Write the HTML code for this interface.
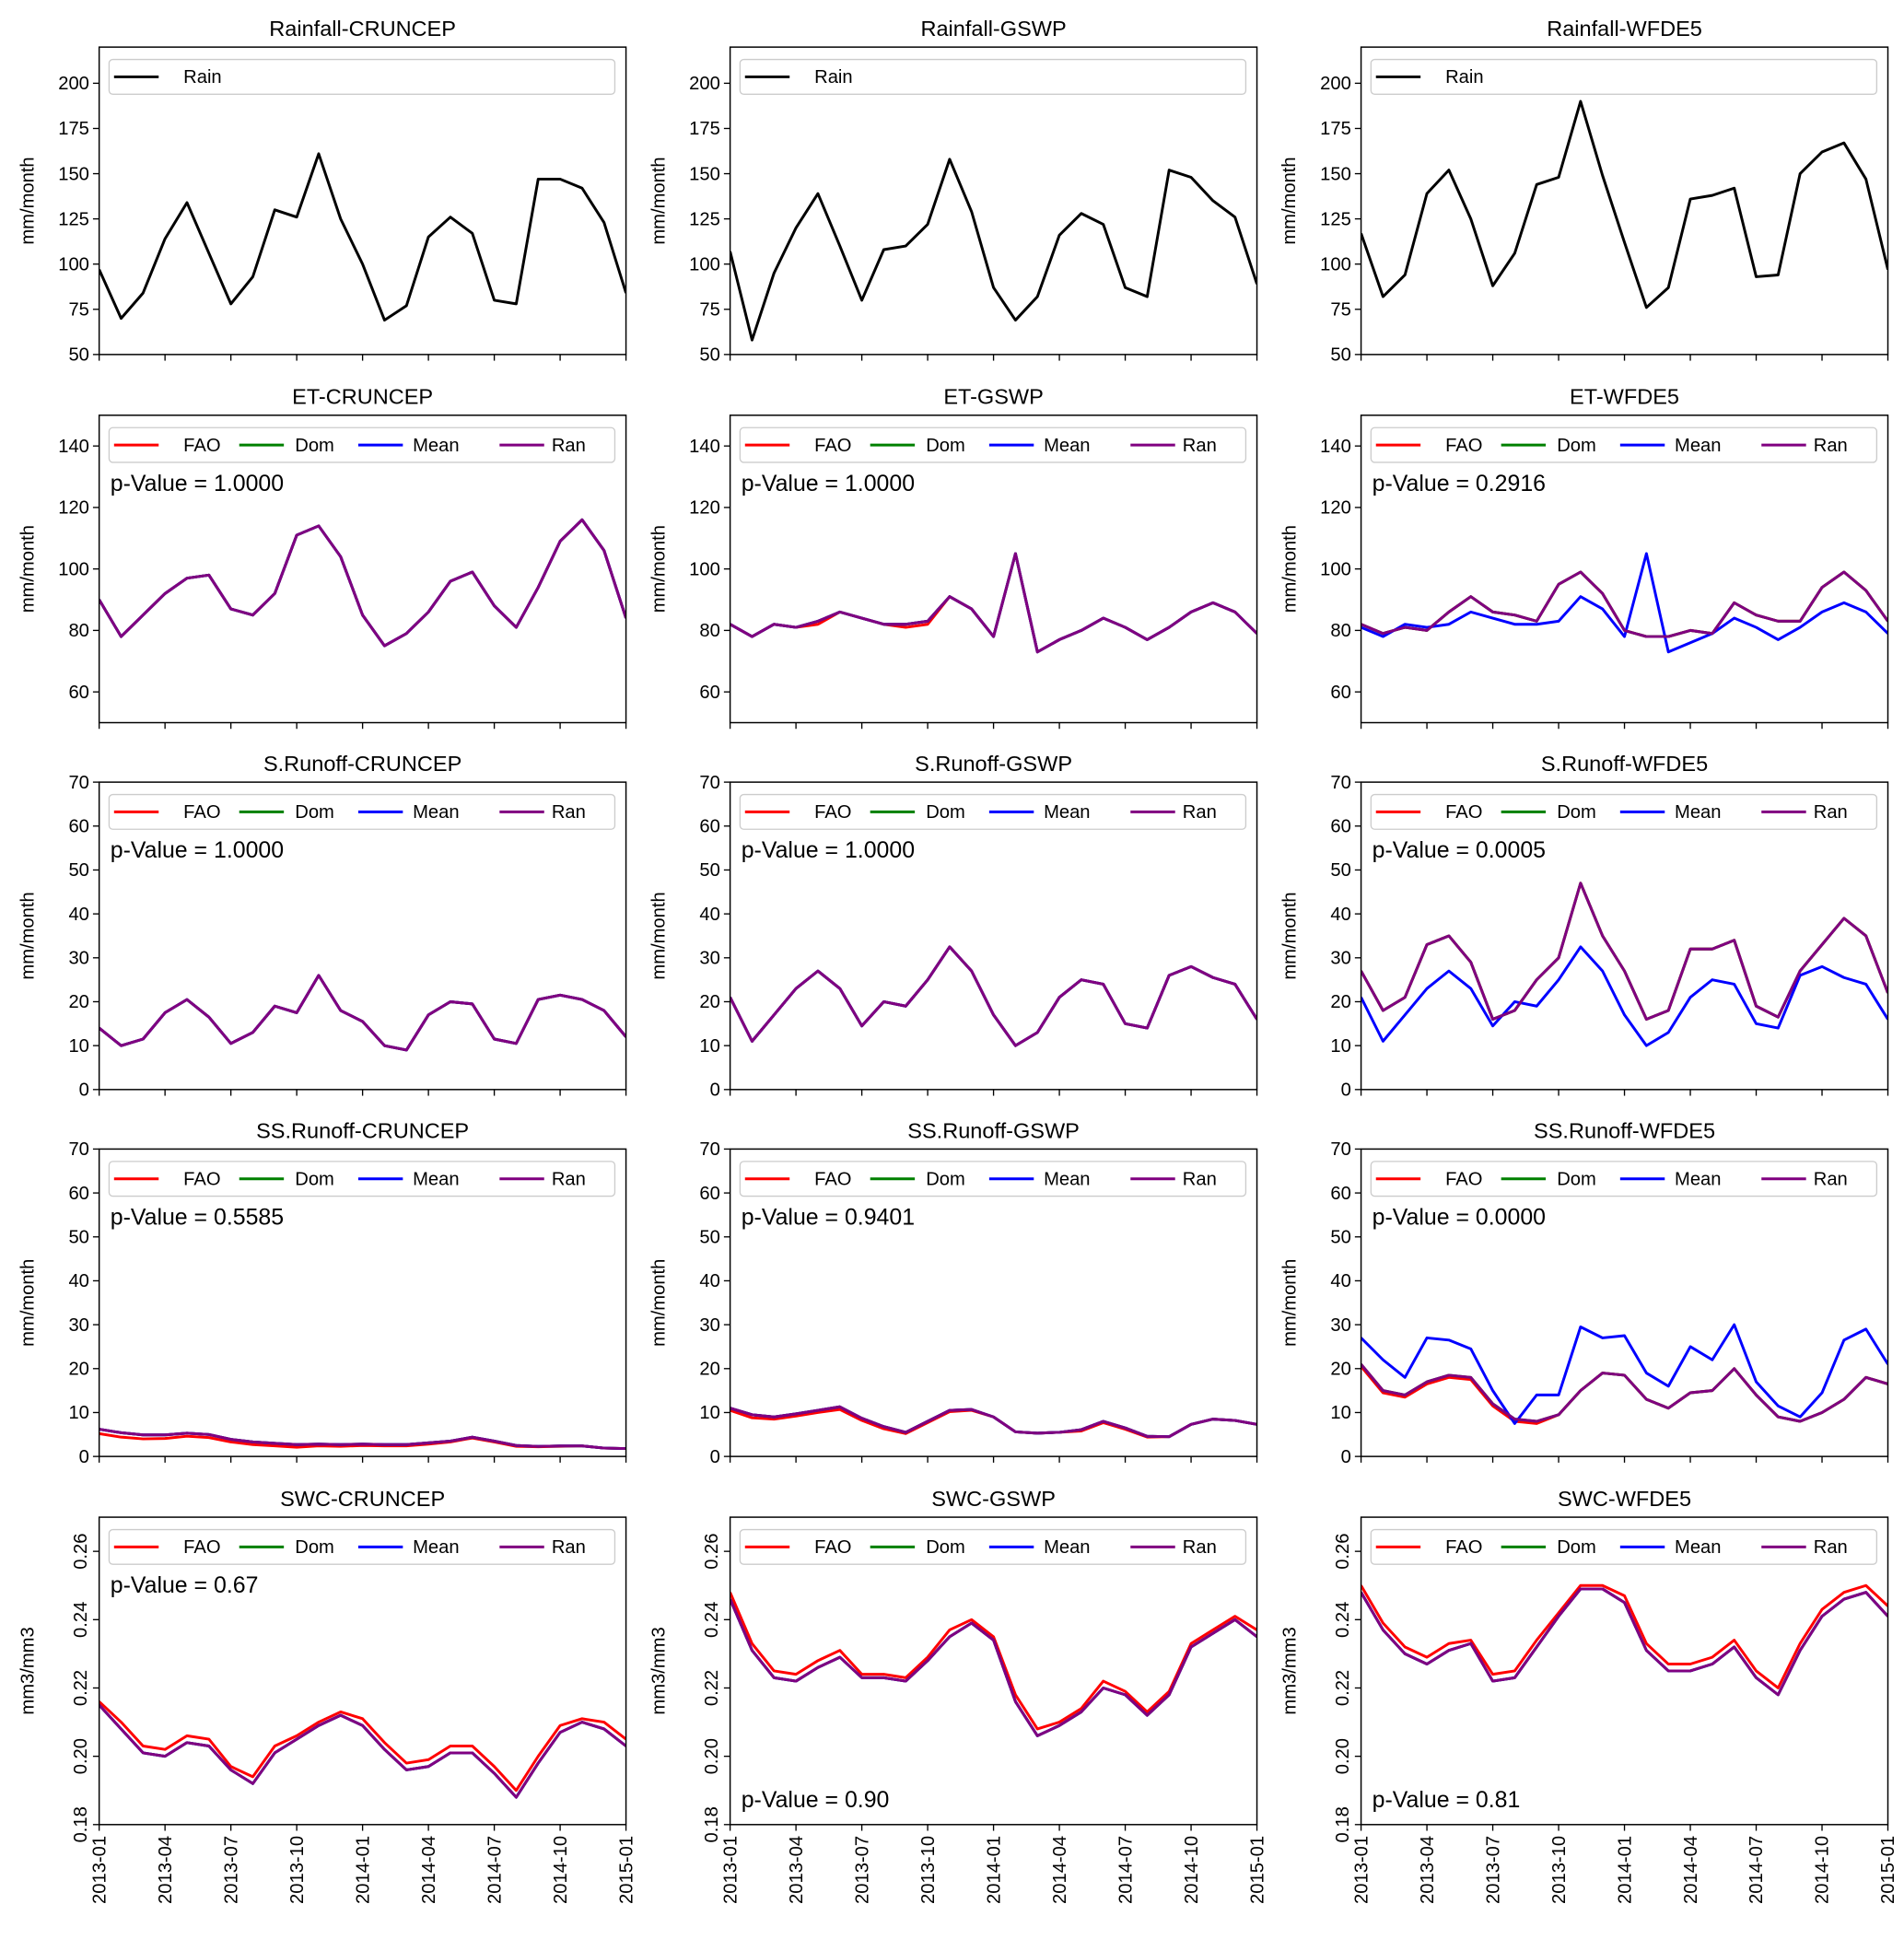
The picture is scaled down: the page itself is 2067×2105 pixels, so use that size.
<!DOCTYPE html>
<html><head><meta charset="utf-8">
<style>
body{margin:0;background:#fff;}
svg{display:block;}
svg text{font-family:"Liberation Sans","DejaVu Sans",sans-serif;fill:#000;}
</style></head>
<body>
<svg id="chart" width="2067" height="2105" viewBox="0 0 1536 1564.3" preserveAspectRatio="none" xmlns="http://www.w3.org/2000/svg"></svg>
<script>
const months = ["2013-01","2013-04","2013-07","2013-10","2014-01","2014-04","2014-07","2014-10","2015-01"];
const rainCRU = [97,70,84,114,134,106,78,93,130,126,161,125,100,69,77,115,126,117,80,78,147,147,142,123,84];
const rainGSWP = [107,58,95,120,139,110,80,108,110,122,158,129,87,69,82,116,128,122,87,82,152,148,135,126,89];
const rainWFD = [117,82,94,139,152,125,88,106,144,148,190,149,112,76,87,136,138,142,93,94,150,162,167,147,97];
const etCRU = [90,78,85,92,97,98,87,85,92,111,114,104,85,75,79,86,96,99,88,81,94,109,116,106,84];
const etGSWPfao = [82,78,82,81,82,86,84,82,81,82,91,87,78,105,73,77,80,84,81,77,81,86,89,86,79];
const etGSWP = [82,78,82,81,83,86,84,82,82,83,91,87,78,105,73,77,80,84,81,77,81,86,89,86,79];
const etWFDmean = [81,78,82,81,82,86,84,82,82,83,91,87,78,105,73,76,79,84,81,77,81,86,89,86,79];
const etWFDran = [82,79,81,80,86,91,86,85,83,95,99,92,80,78,78,80,79,89,85,83,83,94,99,93,83];
const srCRU = [14,10,11.5,17.5,20.5,16.5,10.5,13,19,17.5,26,18,15.5,10,9,17,20,19.5,11.5,10.5,20.5,21.5,20.5,18,12];
const srGSWP = [21,11,17,23,27,23,14.5,20,19,25,32.5,27,17,10,13,21,25,24,15,14,26,28,25.5,24,16];
const srWFDran = [27,18,21,33,35,29,16,18,25,30,47,35,27,16,18,32,32,34,19,16.5,27,33,39,35,22];
const srWFDmean = [21,11,17,23,27,23,14.5,20,19,25,32.5,27,17,10,13,21,25,24,15,14,26,28,25.5,24,16];
const ssCRUran = [6.2,5.4,4.9,4.9,5.3,5.0,3.9,3.3,3.0,2.7,2.8,2.7,2.8,2.7,2.7,3.1,3.5,4.4,3.5,2.5,2.3,2.4,2.4,1.9,1.8];
const ssCRUfao = [5.2,4.4,4.0,4.1,4.6,4.3,3.3,2.7,2.4,2.1,2.4,2.3,2.5,2.4,2.4,2.8,3.3,4.2,3.3,2.3,2.2,2.3,2.4,1.9,1.8];
const ssGSWPran = [11,9.5,9,9.7,10.5,11.3,8.7,6.8,5.5,8,10.5,10.7,9,5.6,5.3,5.5,6.1,8,6.5,4.6,4.5,7.3,8.5,8.2,7.3];
const ssGSWPfao = [10.5,8.8,8.5,9.2,10,10.7,8.2,6.3,5.2,7.7,10.2,10.5,9,5.6,5.3,5.5,5.8,7.7,6.2,4.4,4.5,7.3,8.5,8.2,7.3];
const ssWFDmean = [27,22,18,27,26.5,24.5,15,7.5,14,14,29.5,27,27.5,19,16,25,22,30,17,11.5,9,14.5,26.5,29,21];
const ssWFDran = [21,15,14,17,18.5,18,12,8.5,8,9.5,15,19,18.5,13,11,14.5,15,20,14,9,8,10,13,18,16.5];
const ssWFDfao = [20.5,14.5,13.5,16.5,18,17.5,11.5,8,7.5,9.5,15,19,18.5,13,11,14.5,15,20,14,9,8,10,13,18,16.5];
const swcCRUfao = [0.216,0.210,0.203,0.202,0.206,0.205,0.197,0.194,0.203,0.206,0.210,0.213,0.211,0.204,0.198,0.199,0.203,0.203,0.197,0.190,0.200,0.209,0.211,0.210,0.205];
const swcCRUran = [0.215,0.208,0.201,0.200,0.204,0.203,0.196,0.192,0.201,0.205,0.209,0.212,0.209,0.202,0.196,0.197,0.201,0.201,0.195,0.188,0.198,0.207,0.210,0.208,0.203];
const swcGSWPfao = [0.248,0.233,0.225,0.224,0.228,0.231,0.224,0.224,0.223,0.229,0.237,0.240,0.235,0.218,0.208,0.210,0.214,0.222,0.219,0.213,0.219,0.233,0.237,0.241,0.237];
const swcGSWPran = [0.246,0.231,0.223,0.222,0.226,0.229,0.223,0.223,0.222,0.228,0.235,0.239,0.234,0.216,0.206,0.209,0.213,0.220,0.218,0.212,0.218,0.232,0.236,0.240,0.235];
const swcWFDfao = [0.250,0.239,0.232,0.229,0.233,0.234,0.224,0.225,0.234,0.242,0.250,0.250,0.247,0.233,0.227,0.227,0.229,0.234,0.225,0.220,0.233,0.243,0.248,0.250,0.244];
const swcWFDran = [0.248,0.237,0.230,0.227,0.231,0.233,0.222,0.223,0.232,0.241,0.249,0.249,0.245,0.231,0.225,0.225,0.227,0.232,0.223,0.218,0.231,0.241,0.246,0.248,0.241];
const pvals = ["1.0000","1.0000","0.2916","1.0000","1.0000","0.0005","0.5585","0.9401","0.0000","0.67","0.90","0.81"];

const NS="http://www.w3.org/2000/svg";
const svg=document.getElementById('chart');
function mk(tag,attrs,parent){const e=document.createElementNS(NS,tag);for(const k in attrs)e.setAttribute(k,attrs[k]);(parent||svg).appendChild(e);return e;}
const colX=[80,589,1098], rowY=[38,335,631,927,1224], W=425, H=248;
const COLORS={FAO:"#ff0000",Dom:"#008000",Mean:"#0000ff",Ran:"#800080",Rain:"#000000"};

function panel(r,c,title,ymin,ymax,yticks,fmt,ylab,series,legend,pv,pvBottom){
  const x0=colX[c], y0=rowY[r];
  const g=mk('g',{});
  
  
  const xs=i=>x0+i*W/24, ys=v=>y0+H-(v-ymin)/(ymax-ymin)*H;
  const clip='clip'+r+c;
  const cp=mk('clipPath',{id:clip},g); mk('rect',{x:x0,y:y0,width:W,height:H},cp);
  series.forEach(s=>{
    const p=mk('polyline',{points:s.v.map((v,i)=>xs(i)+','+ys(v)).join(' '),fill:'none',stroke:COLORS[s.n],'stroke-width':2.2,'clip-path':'url(#'+clip+')','stroke-linejoin':'round'},g);
    
    
  });
  const fr=mk('rect',{x:x0,y:y0,width:W,height:H,fill:'none',stroke:'#000','stroke-width':1.1},g);
  
  
  const t=mk('text',{x:x0+W/2,y:y0-9,'text-anchor':'middle','font-size':17.5},g); t.textContent=title;
  
  
  yticks.forEach(v=>{
    const y=ys(v);
    mk('line',{x1:x0-5,x2:x0,y1:y,y2:y,stroke:'#000','stroke-width':1},g);
    let tt;
    if(fmt==='rot'){tt=mk('text',{x:x0-10,y:y,'font-size':15,'text-anchor':'middle',transform:'rotate(-90 '+(x0-10)+' '+y+')'},g);tt.textContent=v.toFixed(2);}
    else{tt=mk('text',{x:x0-8,y:y+5,'font-size':15,'text-anchor':'end'},g);tt.textContent=v;}
    
    
  });
  const yl=mk('text',{x:x0-53,y:y0+H/2,'font-size':15,'text-anchor':'middle',transform:'rotate(-90 '+(x0-53)+' '+(y0+H/2)+')'},g);
  yl.textContent=ylab;
  
  
  months.forEach((m,k)=>{
    const x=xs(k*3);
    mk('line',{x1:x,x2:x,y1:y0+H,y2:y0+H+5,stroke:'#000','stroke-width':1},g);
    if(r===4){
      const tx=mk('text',{x:x+5,y:y0+H+9,'font-size':15,'text-anchor':'end',transform:'rotate(-90 '+(x+5)+' '+(y0+H+9)+')'},g);
      tx.textContent=m;
      
      
    }
  });
  const lg=mk('g',{},g);
  
  
  mk('rect',{x:x0+8,y:y0+10,width:W-17,height:28,rx:3,fill:'#fff',stroke:'#ccc','stroke-width':1},lg);
  const pos=[[12,68],[113,158],[209,253],[323,365]];
  legend.forEach((n,k)=>{
    const ly=y0+24;
    mk('line',{x1:x0+pos[k][0],x2:x0+pos[k][0]+36,y1:ly,y2:ly,stroke:COLORS[n],'stroke-width':2.2},lg);
    const lt=mk('text',{x:x0+pos[k][1],y:ly+5,'font-size':15},lg); lt.textContent=n;
    
    
  });
  if(pv!==null){
    const py=pvBottom?y0+H-14:y0+61;
    const pt=mk('text',{x:x0+9,y:py,'font-size':18.5},g); pt.textContent='p-Value = '+pv;
    
    
  }
}
const L4=["FAO","Dom","Mean","Ran"];
const rT=[50,75,100,125,150,175,200], eT=[60,80,100,120,140], sT=[0,10,20,30,40,50,60,70], wT=[0.18,0.20,0.22,0.24,0.26];
const f4=(fao,dom,mean,ran)=>[{n:"FAO",v:fao},{n:"Dom",v:dom},{n:"Mean",v:mean},{n:"Ran",v:ran}];
panel(0,0,"Rainfall-CRUNCEP",50,220,rT,'',"mm/month",[{n:"Rain",v:rainCRU}],["Rain"],null);
panel(0,1,"Rainfall-GSWP",50,220,rT,'',"mm/month",[{n:"Rain",v:rainGSWP}],["Rain"],null);
panel(0,2,"Rainfall-WFDE5",50,220,rT,'',"mm/month",[{n:"Rain",v:rainWFD}],["Rain"],null);
panel(1,0,"ET-CRUNCEP",50,150,eT,'',"mm/month",f4(etCRU,etCRU,etCRU,etCRU),L4,pvals[0]);
panel(1,1,"ET-GSWP",50,150,eT,'',"mm/month",f4(etGSWPfao,etGSWP,etGSWP,etGSWP),L4,pvals[1]);
panel(1,2,"ET-WFDE5",50,150,eT,'',"mm/month",f4(etWFDran,etWFDran,etWFDmean,etWFDran),L4,pvals[2]);
panel(2,0,"S.Runoff-CRUNCEP",0,70,sT,'',"mm/month",f4(srCRU,srCRU,srCRU,srCRU),L4,pvals[3]);
panel(2,1,"S.Runoff-GSWP",0,70,sT,'',"mm/month",f4(srGSWP,srGSWP,srGSWP,srGSWP),L4,pvals[4]);
panel(2,2,"S.Runoff-WFDE5",0,70,sT,'',"mm/month",f4(srWFDran,srWFDran,srWFDmean,srWFDran),L4,pvals[5]);
panel(3,0,"SS.Runoff-CRUNCEP",0,70,sT,'',"mm/month",f4(ssCRUfao,ssCRUran,ssCRUran,ssCRUran),L4,pvals[6]);
panel(3,1,"SS.Runoff-GSWP",0,70,sT,'',"mm/month",f4(ssGSWPfao,ssGSWPran,ssGSWPran,ssGSWPran),L4,pvals[7]);
panel(3,2,"SS.Runoff-WFDE5",0,70,sT,'',"mm/month",f4(ssWFDfao,ssWFDran,ssWFDmean,ssWFDran),L4,pvals[8]);
panel(4,0,"SWC-CRUNCEP",0.18,0.27,wT,'rot',"mm3/mm3",f4(swcCRUfao,swcCRUran,swcCRUran,swcCRUran),L4,pvals[9],false);
panel(4,1,"SWC-GSWP",0.18,0.27,wT,'rot',"mm3/mm3",f4(swcGSWPfao,swcGSWPran,swcGSWPran,swcGSWPran),L4,pvals[10],true);
panel(4,2,"SWC-WFDE5",0.18,0.27,wT,'rot',"mm3/mm3",f4(swcWFDfao,swcWFDran,swcWFDran,swcWFDran),L4,pvals[11],true);
</script>
</body></html>
